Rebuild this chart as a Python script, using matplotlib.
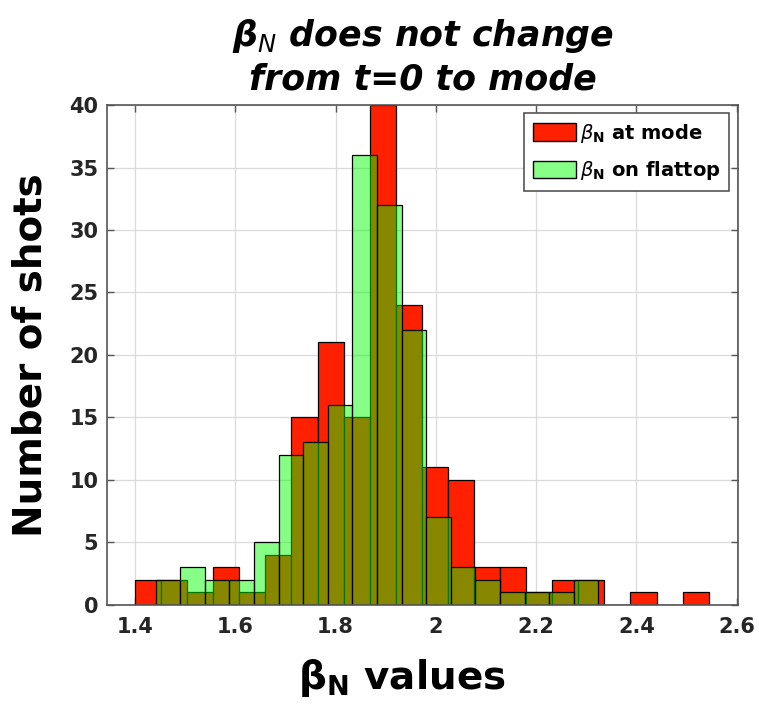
import numpy as np
import matplotlib.pyplot as plt
from matplotlib.patches import Patch

# Histogram counts of beta_N (shots per bin)
counts_mode = [2, 2, 1, 3, 1, 4, 15, 21, 15, 40, 24, 11, 10, 3, 3, 1, 2, 2, 0, 1, 0, 1]
counts_flattop = [2, 3, 2, 2, 5, 12, 13, 16, 36, 32, 22, 7, 3, 2, 1, 1, 1, 2]

# Bin ranges for the two histograms
range_mode = (1.4, 2.544)
range_flattop = (1.4412, 2.3239)

xticks = [1.4, 1.6, 1.8, 2.0, 2.2, 2.4, 2.6]
xtick_labels = ['1.4', '1.6', '1.8', '2', '2.2', '2.4', '2.6']
yticks = [0, 5, 10, 15, 20, 25, 30, 35, 40]

RED = '#FF2000'
GREEN = (0.0, 1.0, 0.0, 0.47)
AXCOL = '#262626'

fig = plt.figure(figsize=(7.59, 7.09), dpi=100)
ax = fig.add_axes([0.1406, 0.1467, 0.8321, 0.7052])

edges_mode = np.linspace(*range_mode, len(counts_mode) + 1)
edges_flat = np.linspace(*range_flattop, len(counts_flattop) + 1)

ax.bar(edges_mode[:-1], counts_mode, width=np.diff(edges_mode), align='edge',
       color=RED, edgecolor='black', linewidth=0.9, zorder=2)
ax.bar(edges_flat[:-1], counts_flattop, width=np.diff(edges_flat), align='edge',
       facecolor=GREEN, edgecolor='black', linewidth=0.9, zorder=3)

ax.set_xlim(1.3436, 2.603)
ax.set_ylim(0, 40)
ax.set_xticks(xticks)
ax.set_xticklabels(xtick_labels)
ax.set_yticks(yticks)
ax.grid(True, color='#DADADA', linewidth=0.9, zorder=0)
ax.set_axisbelow(True)

for s in ax.spines.values():
    s.set_color('#555555')
    s.set_linewidth(1.2)
    s.set_zorder(5)
ax.tick_params(direction='in', length=5, width=1.0, color='#555555',
               top=True, right=True, labelsize=15, labelcolor=AXCOL)
ax.tick_params(axis='x', pad=9)
ax.tick_params(axis='y', pad=6)
for lab in ax.get_xticklabels() + ax.get_yticklabels():
    lab.set_fontweight('bold')

ax.set_title(r'$\mathregular{\beta}_N$ does not change' + '\nfrom t=0 to mode',
             fontsize=25, fontweight='bold', fontstyle='italic',
             linespacing=1.28, pad=11)
ax.set_ylabel('Number of shots', fontsize=28, fontweight='bold')
ax.yaxis.set_label_coords(-0.09, 0.5)
ax.set_xlabel(r'$\mathregular{\beta}_\mathregular{N}$ values', fontsize=28,
              fontweight='bold', va='top')
ax.xaxis.set_label_coords(0.4675, -0.105)

handles = [Patch(facecolor=RED, edgecolor='black'),
           Patch(facecolor=GREEN, edgecolor='black')]
labels = [r'$\beta_{\mathbf{N}}$ at mode', r'$\beta_{\mathbf{N}}$ on flattop']
leg = ax.legend(handles, labels, loc='upper right',
                prop={'weight': 'bold', 'size': 14}, frameon=True,
                fancybox=False, edgecolor='#555555', framealpha=1,
                handlelength=2.2, handleheight=1.0, handletextpad=0.2,
                borderpad=0.45, labelspacing=0.75, borderaxespad=0,
                bbox_to_anchor=(0.9857, 0.984))
leg.get_frame().set_linewidth(1.2)
leg.set_zorder(6)

fig.savefig('out.png', dpi=100, facecolor='white')
